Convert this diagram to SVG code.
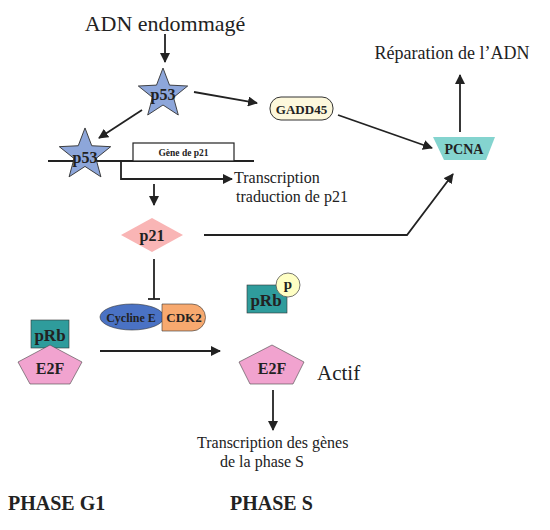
<svg xmlns="http://www.w3.org/2000/svg" width="550" height="530" viewBox="0 0 550 530">
<defs>
<style>
.t{font-family:"Liberation Serif","Times New Roman",serif;fill:#222}
.b{font-family:"Liberation Serif","Times New Roman",serif;font-weight:bold;fill:#222}
.ln{stroke:#222;stroke-width:1.8;fill:none}
.star{fill:#8da6da;stroke:#333;stroke-width:0.9}
.e2f{fill:#f1a3cf;stroke:#444;stroke-width:0.6}
.prb{fill:#2f9c9c;stroke:#333;stroke-width:0.6}
</style>
<marker id="ah" viewBox="0 0 10 10" refX="9" refY="5" markerWidth="10" markerHeight="10" markerUnits="userSpaceOnUse" orient="auto">
<path d="M0,0 L10,5 L0,10 Z" fill="#222"/>
</marker>
<polygon id="starShape" points="0,-26 6.5,-8.9 24.7,-8 10.5,3.4 15.3,21 0,11 -15.3,21 -10.5,3.4 -24.7,-8 -6.5,-8.9"/>
</defs>
<rect width="550" height="530" fill="#fff"/>

<g id="connectors">
<line class="ln" x1="165" y1="34" x2="165" y2="62" marker-end="url(#ah)"/>
<line class="ln" x1="194" y1="92" x2="257" y2="103" marker-end="url(#ah)"/>
<line class="ln" x1="142" y1="110" x2="99" y2="138" marker-end="url(#ah)"/>
<line class="ln" x1="338" y1="115" x2="432" y2="148" marker-end="url(#ah)"/>
<line class="ln" x1="460" y1="132" x2="460" y2="75" marker-end="url(#ah)"/>
<line class="ln" x1="48" y1="161" x2="254" y2="161"/>
<path class="ln" d="M121,161 V179 H232" marker-end="url(#ah)"/>
<line class="ln" x1="154" y1="184" x2="154" y2="205" marker-end="url(#ah)"/>
<path class="ln" d="M204,235 H407 L453,174" marker-end="url(#ah)"/>
<line class="ln" x1="154" y1="259" x2="154" y2="299"/>
<line class="ln" x1="148" y1="299" x2="160" y2="299"/>
<line class="ln" x1="100" y1="351" x2="220" y2="351" marker-end="url(#ah)"/>
<line class="ln" x1="273" y1="390" x2="273" y2="430" marker-end="url(#ah)"/>
</g>

<g id="adn-endommage"><text class="t" x="165" y="31" font-size="22" text-anchor="middle">ADN endommagé</text></g>

<g id="p53-top">
<use href="#starShape" class="star" transform="translate(163,94)"/>
<text class="b" x="163" y="100" font-size="16" text-anchor="middle">p53</text>
</g>

<g id="gadd45">
<rect x="270" y="97" width="63" height="23" rx="11" fill="#fdf8dc" stroke="#333" stroke-width="1"/>
<text class="b" x="301.5" y="113.5" font-size="13" text-anchor="middle">GADD45</text>
</g>

<g id="pcna">
<polygon points="433,137 495,137 486,160 444,160" fill="#84d4cf"/>
<text class="b" x="464" y="154" font-size="14" text-anchor="middle">PCNA</text>
</g>

<g id="reparation"><text class="t" x="452" y="59" font-size="18" text-anchor="middle">Réparation de l’ADN</text></g>

<g id="gene-p21">
<rect x="133" y="143" width="101" height="18" fill="#fff" stroke="#222" stroke-width="1.2"/>
<text class="b" x="183.5" y="156" font-size="9.5" text-anchor="middle">Gène de p21</text>
</g>

<g id="p53-gene">
<use href="#starShape" class="star" transform="translate(85,155) scale(1.04)"/>
<text class="b" x="85" y="163" font-size="16" text-anchor="middle">p53</text>
</g>

<g id="transcription-p21">
<text class="t" x="234" y="183" font-size="16">Transcription</text>
<text class="t" x="236" y="202" font-size="16">traduction de p21</text>
</g>

<g id="p21">
<polygon points="121,235 152,218 183,235 152,252" fill="#f9b5b5"/>
<text class="b" x="152" y="240.5" font-size="16" text-anchor="middle">p21</text>
</g>

<g id="cycline-cdk2">
<ellipse cx="132" cy="317" rx="32" ry="13" fill="#4a72c4" stroke="#333" stroke-width="0.6"/>
<path d="M162,304 H192 A13.5,13.5 0 0 1 192,331 H162 Z" fill="#f7a96f" stroke="#333" stroke-width="0.6"/>
<text class="b" x="131" y="321.5" font-size="12" text-anchor="middle">Cycline E</text>
<text class="b" x="184" y="322" font-size="13" text-anchor="middle">CDK2</text>
</g>

<g id="prb-p">
<rect class="prb" x="247" y="285" width="40" height="28"/>
<text class="b" x="266" y="306" font-size="17" text-anchor="middle">pRb</text>
<circle cx="288" cy="285" r="12" fill="#ffffc4" stroke="#555" stroke-width="0.8"/>
<text class="b" x="288" y="289" font-size="15" text-anchor="middle">p</text>
</g>

<g id="prb-e2f-g1">
<rect class="prb" x="31" y="320" width="38" height="28"/>
<text class="b" x="50" y="341" font-size="17" text-anchor="middle">pRb</text>
<polygon class="e2f" points="50,345 82,362 70,384 30,384 18,362"/>
<text class="b" x="50" y="374" font-size="16" text-anchor="middle">E2F</text>
</g>

<g id="e2f-s">
<polygon class="e2f" points="272,345 304,362 293,384 250,384 239,362"/>
<text class="b" x="272" y="374" font-size="16" text-anchor="middle">E2F</text>
<text class="t" x="317" y="380" font-size="21">Actif</text>
</g>

<g id="transcription-s">
<text class="t" x="197" y="448" font-size="16">Transcription des gènes</text>
<text class="t" x="220" y="467" font-size="16">de la phase S</text>
</g>

<g id="phases">
<text class="b" x="8" y="510" font-size="20">PHASE G1</text>
<text class="b" x="230" y="510" font-size="20">PHASE S</text>
</g>
</svg>
